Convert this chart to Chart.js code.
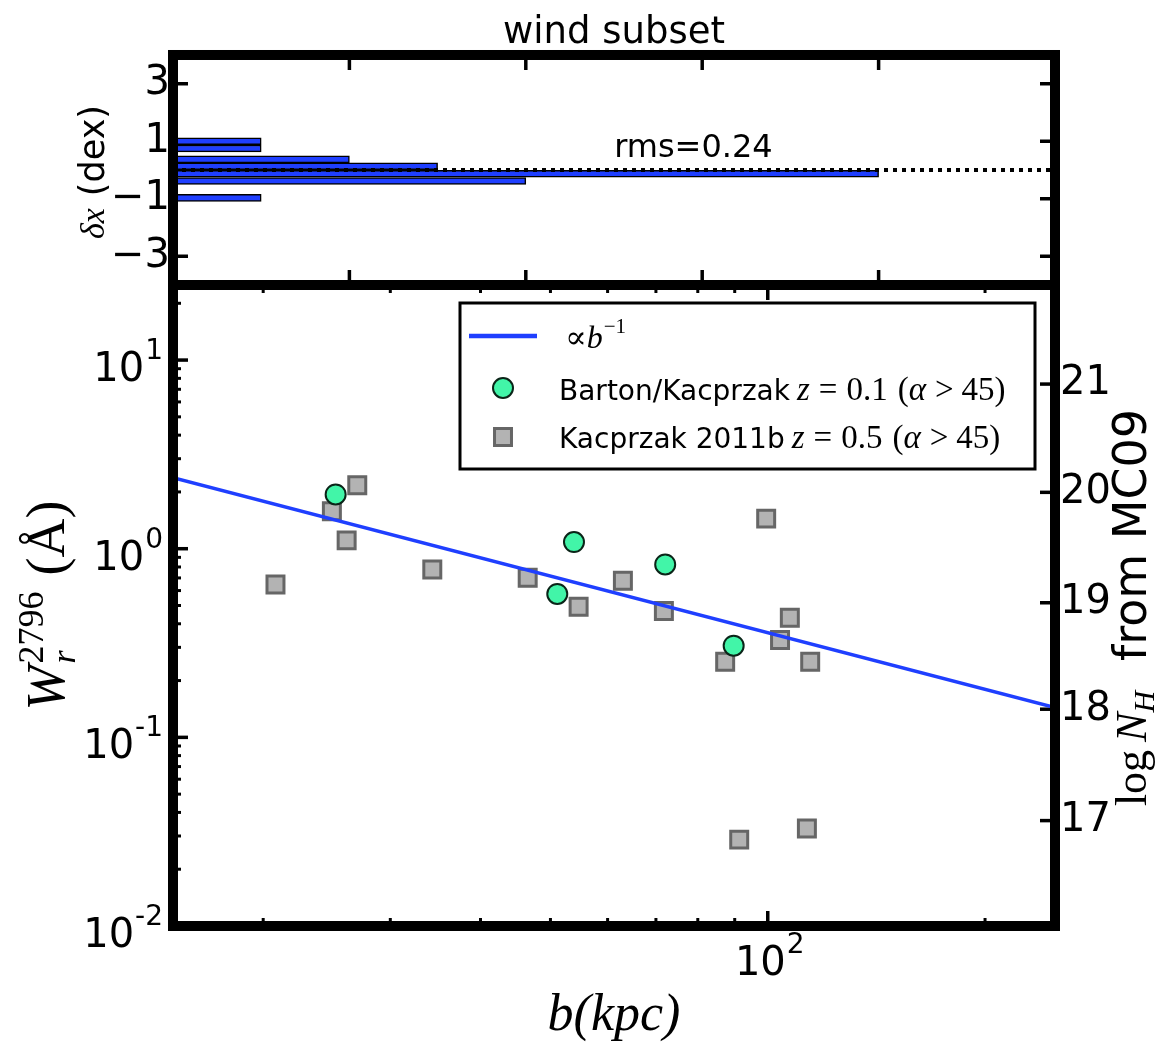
<!DOCTYPE html>
<html>
<head>
<meta charset="utf-8">
<title>wind subset</title>
<script src="https://cdn.jsdelivr.net/npm/chart.js@4.4.1/dist/chart.umd.min.js"></script>
<style>
  html, body { margin: 0; padding: 0; background: #ffffff; }
  #wrap { position: relative; width: 1156px; height: 1042px; overflow: hidden; background: #fff; }
  canvas { position: absolute; left: 0; top: 0; }
</style>
</head>
<body>
<div id="wrap">
  <canvas id="bottomPanel" width="1156" height="1042" style="width:1156px;height:1042px"></canvas>
  <canvas id="topPanel" width="1156" height="340" style="width:1156px;height:340px"></canvas>
</div>
<script>
// ---------------- data ----------------
// top panel: histogram of residuals delta x (dex)
const histCenters = [1.0, 0.75, 0.37, 0.13, -0.13, -0.38, -0.97];
const histCounts  = [1, 1, 2, 3, 8, 4, 1];
const deltaTicks  = [-3, -1, 1, 3];
const countTicks  = [2, 4, 6, 8];
const rmsText     = 'rms=0.24';
const rmsPos      = [5.9, 0.45];      // data coords (count, dex)

// bottom panel: W_r(2796) vs impact parameter b
const bartonB = [25.2, 51.1, 53.9, 72.1, 89.7];
const bartonW = [1.94, 0.576, 1.085, 0.825, 0.306];
const kacB = [20.8, 24.9, 26.1, 27.0, 34.3, 46.5, 54.7, 63.0, 71.8, 87.3, 91.3, 99.5, 104.0, 107.3, 113.3, 114.5];
const kacW = [0.646, 1.579, 1.107, 2.171, 0.776, 0.701, 0.493, 0.676, 0.468, 0.2515, 0.0287, 1.444, 0.328, 0.431, 0.0329, 0.2515];
const fitB = [15, 250];
const fitW = [2.38, 0.144];
// right axis: log N_H from MC09, tick positions expressed in W
const mc09W      = [0.0362, 0.141, 0.517, 1.99, 7.46];
const mc09Labels = ['17', '18', '19', '20', '21'];
const yDecades = [-2, -1, 0, 1];
const xDecades = [2];
const legendNames = ['Barton/Kacprzak', 'Kacprzak 2011b'];
const legendZ     = ['0.1', '0.5'];

// ---------------- styles ----------------
const BLUE = '#1f3fff';
const GREEN = '#42f5a8';
const SANS = '"DejaVu Sans", "Liberation Sans", sans-serif';
const SERIF = '"Liberation Serif", "DejaVu Serif", serif';
const MAJ = 15, MIN = 8;

Chart.defaults.color = '#000';
Chart.defaults.font.family = SANS;

function strokeLine(ctx, x1, y1, x2, y2, w) {
  ctx.lineWidth = w;
  ctx.beginPath(); ctx.moveTo(x1, y1); ctx.lineTo(x2, y2); ctx.stroke();
}

function drawRuns(ctx, runs, x, y, align, rotate) {
  ctx.save();
  ctx.translate(x, y);
  if (rotate) ctx.rotate(rotate);
  ctx.textAlign = 'left';
  ctx.textBaseline = 'alphabetic';
  ctx.fillStyle = '#000';
  const adv = runs.map(r => {
    let w = r.gap || 0;
    if (r.t) { ctx.font = r.f; w += ctx.measureText(r.t).width; }
    return r.stack ? 0 : w;
  });
  const total = adv.reduce((s, w) => s + w, 0);
  let cx = align === 'center' ? -total / 2 : (align === 'right' ? -total : 0);
  runs.forEach((r, i) => {
    if (r.t) { ctx.font = r.f; ctx.fillText(r.t, cx, r.dy || 0); }
    cx += adv[i];
  });
  ctx.restore();
}

function logTickList(min, max) {
  const out = [];
  for (let d = Math.floor(Math.log10(min)); d <= Math.ceil(Math.log10(max)); d++) {
    for (let k = 1; k <= 9; k++) {
      const v = k * Math.pow(10, d);
      if (v >= min * 0.9999 && v <= max * 1.0001) out.push({ v, major: k === 1 });
    }
  }
  return out;
}

function drawPow(ctx, exp, x, baseY, align) {
  const baseF = '40px ' + SANS, expF = '28px ' + SANS;
  const e = exp < 0 ? '-' + (-exp) : String(exp);
  drawRuns(ctx, [{ t: '10', f: baseF, gap: 1 }, { t: e, f: expF, dy: -22 }], x, baseY, align);
}

// ---------------- top panel ----------------
const topDecor = {
  id: 'topDecor',
  beforeDatasetsDraw(chart) {
    const { ctx, chartArea: a, scales } = chart;
    ctx.save();
    ctx.strokeStyle = '#000';
    countTicks.forEach(v => {
      const px = scales.x.getPixelForValue(v);
      strokeLine(ctx, px, a.top, px, a.top + MAJ, 3.5);
      strokeLine(ctx, px, a.bottom, px, a.bottom - MAJ, 3.5);
    });
    deltaTicks.forEach(v => {
      const py = scales.y.getPixelForValue(v);
      strokeLine(ctx, a.left, py, a.left + MAJ, py, 3.5);
      strokeLine(ctx, a.right, py, a.right - MAJ, py, 3.5);
    });
    ctx.restore();
  },
  afterDraw(chart) {
    const { ctx, chartArea: a, scales } = chart;
    ctx.save();
    ctx.strokeStyle = '#000';
    ctx.lineWidth = 10;
    ctx.strokeRect(a.left, a.top, a.right - a.left, a.bottom - a.top);
    drawRuns(ctx, [{ t: rmsText, f: '32px ' + SANS }],
      scales.x.getPixelForValue(rmsPos[0]), scales.y.getPixelForValue(rmsPos[1]), 'center');
    drawRuns(ctx, [
      { t: '\u03B4x', f: 'italic 34px ' + SERIF, gap: 12 },
      { t: '(dex)', f: '35px ' + SANS }
    ], 104, (a.top + a.bottom) / 2 + 2, 'center', -Math.PI / 2);
    ctx.restore();
  }
};

new Chart(document.getElementById('topPanel'), {
  type: 'bar',
  data: {
    datasets: [
      {
        type: 'line',
        data: [{ x: 0, y: 0 }, { x: 10, y: 0 }],
        borderColor: '#000', borderWidth: 4, borderDash: [4, 5],
        pointRadius: 0, fill: false, order: 0
      },
      {
        type: 'bar',
        indexAxis: 'y',
        data: histCenters.map((c, i) => ({ x: histCounts[i], y: c })),
        backgroundColor: BLUE, borderColor: '#000', borderWidth: 1.5,
        borderSkipped: false, barPercentage: 1, categoryPercentage: 1,
        order: 1
      }
    ]
  },
  options: {
    responsive: false, animation: false, events: [],
    layout: { padding: { right: 101, left: 0, top: 0, bottom: 0 } },
    plugins: {
      legend: { display: false }, tooltip: { enabled: false },
      title: {
        display: true, text: 'wind subset', fullSize: false, color: '#000',
        font: { family: SANS, size: 37, weight: 'normal', lineHeight: 1.162 },
        padding: { top: 12, bottom: 0 }
      }
    },
    scales: {
      x: {
        type: 'linear', min: 0, max: 10, position: 'bottom', offset: false,
        ticks: { display: false }, grid: { display: false, drawTicks: false },
        border: { display: false },
        afterFit(s) { s.height = 55; }
      },
      y: {
        type: 'linear', min: -4, max: 4, position: 'left', offset: false,
        afterBuildTicks(s) { s.ticks = deltaTicks.map(v => ({ value: v })); },
        ticks: {
          autoSkip: false, padding: 3, color: '#000',
          font: { family: SANS, size: 40 },
          callback: v => (v < 0 ? '\u2212' + Math.abs(v) : String(v))
        },
        grid: { display: false, drawTicks: false },
        border: { display: false },
        afterFit(s) { s.width = 173; }
      }
    }
  },
  plugins: [topDecor]
});

// ---------------- bottom panel ----------------
function drawLegend(chart) {
  const ctx = chart.ctx;
  const [fitDs, bartonDs, kacDs] = chart.data.datasets;
  const L = 460, T = 303, W = 575, H = 166;
  ctx.save();
  ctx.fillStyle = '#fff'; ctx.fillRect(L, T, W, H);
  ctx.strokeStyle = '#000'; ctx.lineWidth = 3; ctx.strokeRect(L, T, W, H);
  // row 1 : line handle
  ctx.strokeStyle = fitDs.borderColor;
  strokeLine(ctx, L + 9, T + 33, L + 77, T + 33, 4.5);
  drawRuns(ctx, [
    { t: '\u221D', f: '32px ' + SERIF },
    { t: 'b', f: 'italic 32px ' + SERIF, gap: 1 },
    { t: '\u22121', f: '21px ' + SERIF, dy: -15 }
  ], L + 105, T + 45, 'left');
  // row 2 : circle
  ctx.fillStyle = bartonDs.backgroundColor; ctx.strokeStyle = bartonDs.borderColor;
  ctx.lineWidth = bartonDs.borderWidth;
  ctx.beginPath(); ctx.arc(L + 43, T + 85, bartonDs.pointRadius, 0, Math.PI * 2); ctx.fill(); ctx.stroke();
  // row 3 : square
  const s = kacDs.pointRadius * Math.SQRT1_2;
  ctx.fillStyle = kacDs.backgroundColor; ctx.strokeStyle = kacDs.borderColor;
  ctx.lineWidth = kacDs.borderWidth;
  ctx.beginPath(); ctx.rect(L + 43 - s, T + 134 - s, 2 * s, 2 * s); ctx.fill(); ctx.stroke();
  const base = [T + 97, T + 145];
  legendNames.forEach((name, i) => {
    drawRuns(ctx, [
      { t: name, f: '28px ' + SANS, gap: 7 },
      { t: 'z', f: 'italic 33px ' + SERIF, gap: 9 },
      { t: '=', f: '33px ' + SERIF, gap: 9 },
      { t: legendZ[i], f: '33px ' + SERIF, gap: 10 },
      { t: '(', f: '33px ' + SERIF },
      { t: '\u03B1', f: 'italic 33px ' + SERIF, gap: 9 },
      { t: '>', f: '33px ' + SERIF, gap: 8 },
      { t: '45)', f: '33px ' + SERIF }
    ], L + 99, base[i], 'left');
  });
  ctx.restore();
}

const botDecor = {
  id: 'botDecor',
  beforeDatasetsDraw(chart) {
    const { ctx, chartArea: a, scales } = chart;
    ctx.save();
    ctx.strokeStyle = '#000';
    logTickList(scales.x.min, scales.x.max).forEach(t => {
      const px = scales.x.getPixelForValue(t.v);
      const len = t.major ? MAJ : MIN, w = t.major ? 3.5 : 3;
      strokeLine(ctx, px, a.top, px, a.top + len, w);
      strokeLine(ctx, px, a.bottom, px, a.bottom - len, w);
    });
    logTickList(scales.y.min, scales.y.max).forEach(t => {
      const py = scales.y.getPixelForValue(t.v);
      const len = t.major ? MAJ : MIN, w = t.major ? 3.5 : 3;
      strokeLine(ctx, a.left, py, a.left + len, py, w);
    });
    mc09W.forEach(v => {
      const py = scales.y2.getPixelForValue(v);
      strokeLine(ctx, a.right, py, a.right - MAJ, py, 3.5);
    });
    ctx.restore();
  },
  afterDraw(chart) {
    const { ctx, chartArea: a, scales } = chart;
    ctx.save();
    ctx.strokeStyle = '#000';
    ctx.lineWidth = 10;
    ctx.strokeRect(a.left, a.top, a.right - a.left, a.bottom - a.top);
    // decade labels
    yDecades.forEach(d => {
      drawPow(ctx, d, 163, scales.y.getPixelForValue(Math.pow(10, d)) + 21, 'right');
    });
    xDecades.forEach(d => {
      drawPow(ctx, d, scales.x.getPixelForValue(Math.pow(10, d)) + 2, a.bottom + 49, 'center');
    });
    // axis titles
    drawRuns(ctx, [{ t: 'b(kpc)', f: 'italic 52px ' + SERIF }], (a.left + a.right) / 2, 1030, 'center');
    drawRuns(ctx, [
      { t: 'W', f: 'italic 54px ' + SERIF, gap: 2 },
      { t: 'r', f: 'italic 34px ' + SERIF, dy: 11, stack: true },
      { t: '2796', f: '36px ' + SERIF, dy: -21, gap: 16 },
      { t: '(\u00C5)', f: '54px ' + SERIF }
    ], 64, (a.top + a.bottom) / 2, 'center', -Math.PI / 2);
    drawRuns(ctx, [
      { t: 'log', f: '44px ' + SERIF, gap: 8 },
      { t: 'N', f: 'italic 44px ' + SERIF },
      { t: 'H', f: 'italic 30px ' + SERIF, dy: 8, gap: 30 },
      { t: 'from MC09', f: '46px ' + SANS }
    ], 1146, (a.top + a.bottom) / 2 + 2, 'center', -Math.PI / 2);
    drawLegend(chart);
    ctx.restore();
  }
};

new Chart(document.getElementById('bottomPanel'), {
  type: 'scatter',
  data: {
    datasets: [
      {
        label: '\u221Db^-1', type: 'line',
        data: fitB.map((b, i) => ({ x: b, y: fitW[i] })),
        borderColor: BLUE, borderWidth: 3.5, pointRadius: 0, fill: false, order: 0
      },
      {
        label: 'Barton/Kacprzak z=0.1',
        data: bartonB.map((b, i) => ({ x: b, y: bartonW[i] })),
        pointStyle: 'circle', pointRadius: 10, backgroundColor: GREEN,
        borderColor: '#0b2418', borderWidth: 2, order: 1
      },
      {
        label: 'Kacprzak 2011b z=0.5',
        data: kacB.map((b, i) => ({ x: b, y: kacW[i] })),
        pointStyle: 'rect', pointRadius: 12, backgroundColor: '#b3b3b3',
        borderColor: '#666666', borderWidth: 3, order: 2
      }
    ]
  },
  options: {
    responsive: false, animation: false, events: [],
    layout: { padding: { top: 285, left: 0, right: 0, bottom: 0 } },
    plugins: { legend: { display: false }, tooltip: { enabled: false }, title: { display: false } },
    scales: {
      x: {
        type: 'logarithmic', min: 15, max: 250, position: 'bottom',
        ticks: { display: false }, grid: { display: false, drawTicks: false },
        border: { display: false },
        afterFit(s) { s.height = 116; }
      },
      y: {
        type: 'logarithmic', min: 0.01, max: 25, position: 'left',
        ticks: { display: false }, grid: { display: false, drawTicks: false },
        border: { display: false },
        afterFit(s) { s.width = 173; }
      },
      y2: {
        type: 'logarithmic', min: 0.01, max: 25, position: 'right',
        afterBuildTicks(s) { s.ticks = mc09W.map(v => ({ value: v })); },
        ticks: {
          autoSkip: false, padding: 5, color: '#000',
          font: { family: SANS, size: 40 },
          callback: (v, i) => mc09Labels[i]
        },
        grid: { display: false, drawTicks: false },
        border: { display: false },
        afterFit(s) { s.width = 101; }
      }
    }
  },
  plugins: [botDecor]
});
</script>
</body>
</html>
